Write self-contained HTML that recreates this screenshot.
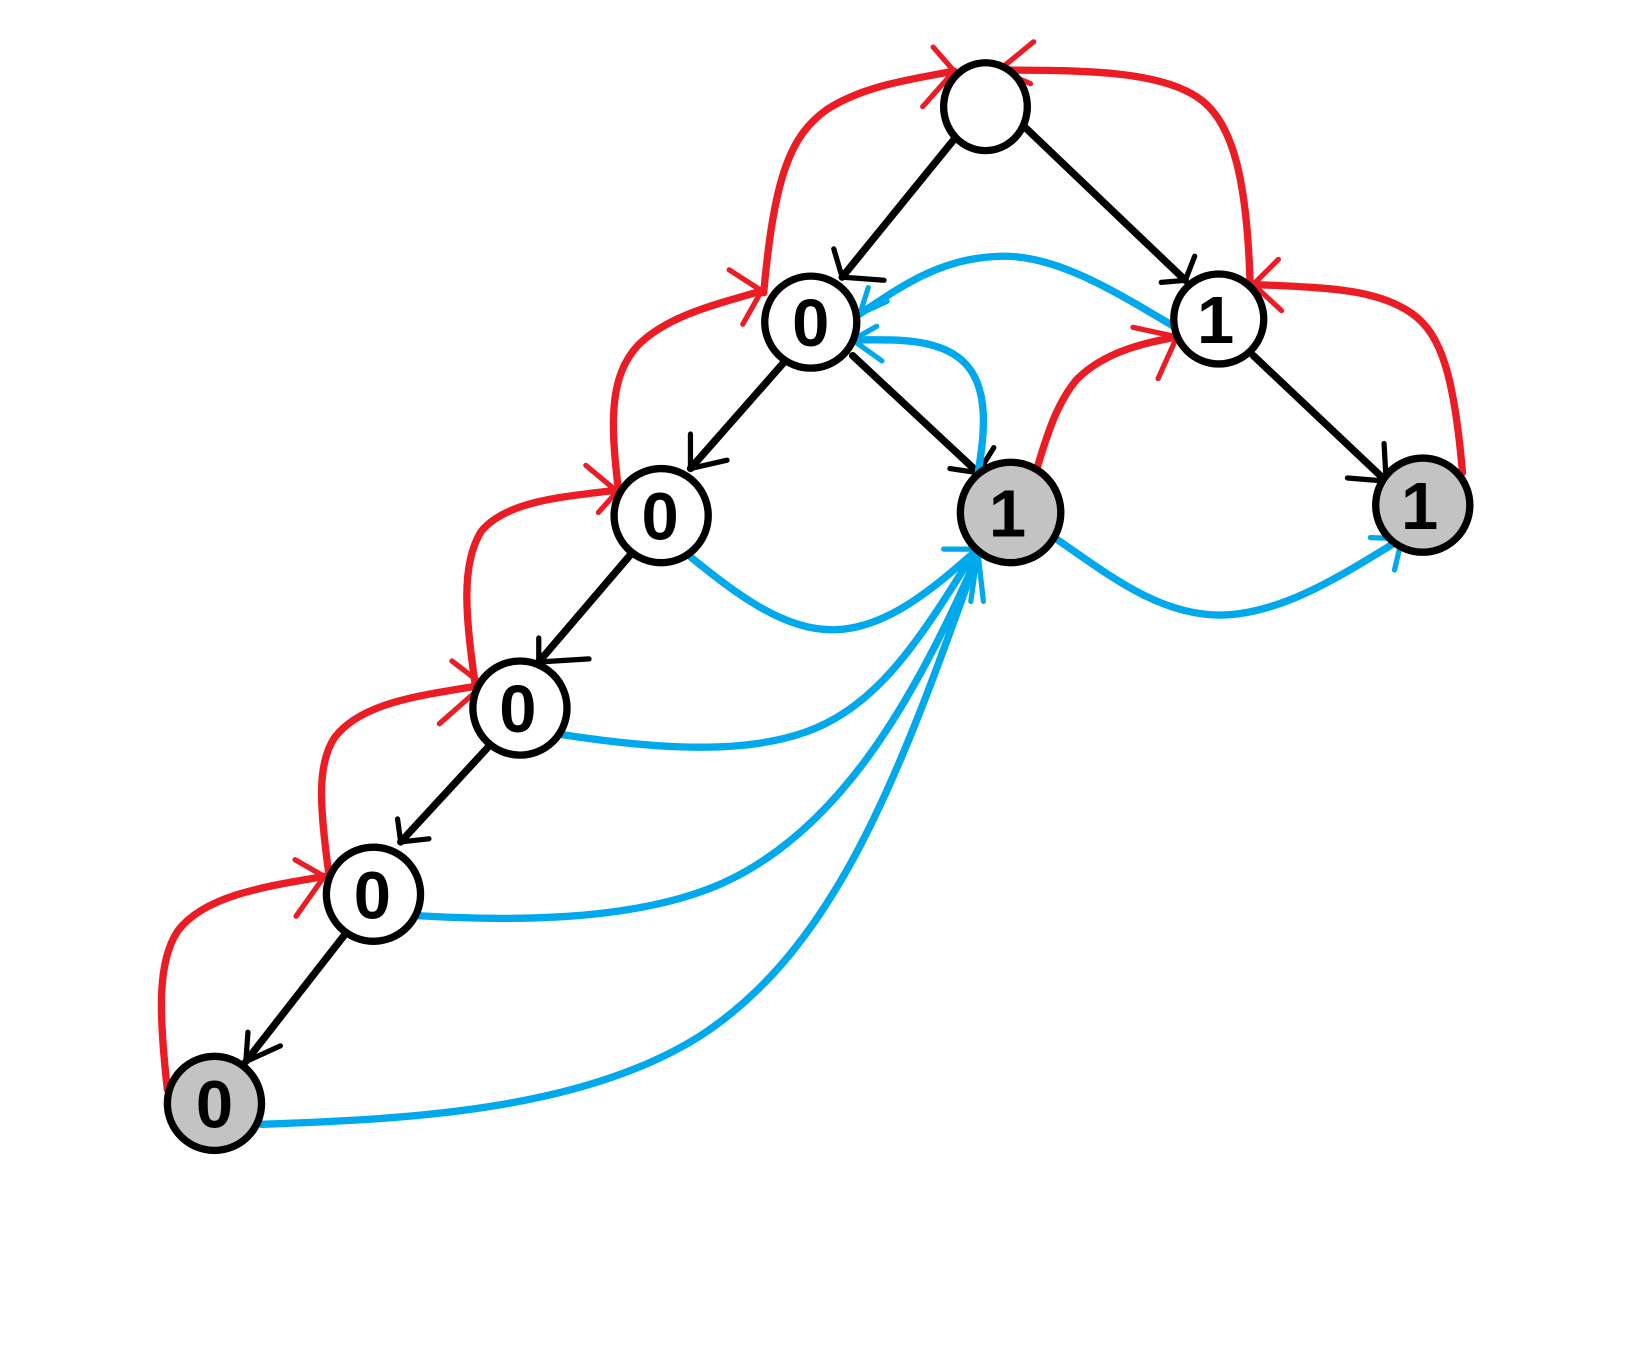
<!DOCTYPE html>
<html><head><meta charset="utf-8"><style>html,body{margin:0;padding:0;background:#fff}svg{display:block}</style></head>
<body>
<svg width="1632" height="1368" viewBox="0 0 1560 1308" preserveAspectRatio="none" xmlns="http://www.w3.org/2000/svg">
<g fill="none" stroke-linecap="round" stroke-linejoin="round">
<!-- black edges -->
<g stroke="#000" stroke-width="7">
<line x1="913" y1="132" x2="805" y2="265"/>
<line x1="978" y1="120" x2="1133" y2="268"/>
<line x1="748" y1="348" x2="660" y2="448"/>
<line x1="815" y1="340" x2="935" y2="452"/>
<line x1="1198" y1="340" x2="1325" y2="460"/>
<line x1="603" y1="530" x2="515" y2="633"/>
<line x1="466" y1="715" x2="383" y2="805"/>
<line x1="330" y1="893" x2="235" y2="1015"/>
</g>
<g stroke="#000" stroke-width="5">
<polyline points="797,238 805,265 845,268"/>
<polyline points="1110,270 1133,268 1142,245"/>
<polyline points="660,415 660,448 695,440"/>
<polyline points="908,448 935,452 950,428"/>
<polyline points="1288,457 1325,460 1323,424"/>
<polyline points="515,610 515,633 563,630"/>
<polyline points="380,783 383,805 410,802"/>
<polyline points="237,987 235,1015 268,1000"/>
</g>
<!-- red -->
<g stroke="#ec1c24" stroke-width="7">
<path d="M730,280 C740,170 755,130 790,105 C825,82 870,76 912,68"/>
<path d="M1195,272 C1192,170 1178,120 1150,97 C1115,68 1040,67 955,67"/>
<path d="M1398,452 C1390,360 1378,320 1350,300 C1315,275 1262,275 1198,272"/>
<path d="M990,452 C1000,418 1010,385 1030,362 C1058,335 1095,328 1125,322"/>
<path d="M592,475 C583,405 582,360 610,330 C640,300 690,290 728,278"/>
<path d="M455,660 C445,590 440,540 460,508 C485,478 540,475 595,468"/>
<path d="M315,840 C305,770 303,730 320,705 C345,672 400,665 462,655"/>
<path d="M160,1042 C152,970 150,920 170,890 C195,857 250,848 310,838"/>
</g>
<g stroke="#ec1c24" stroke-width="5">
<polyline points="892,45 912,68 882,102"/>
<polyline points="988,40 955,67 985,80"/>
<polyline points="1222,248 1198,272 1225,297"/>
<polyline points="1083,313 1125,322 1107,362"/>
<polyline points="697,258 728,278 710,310"/>
<polyline points="560,445 590,470 572,490"/>
<polyline points="432,632 462,655 420,692"/>
<polyline points="282,822 310,838 283,876"/>
</g>
<!-- blue -->
<g stroke="#00a8ec" stroke-width="7">
<path d="M1127,315 C1060,275 1010,245 960,245 C900,245 860,275 822,300"/>
<path d="M935,452 C940,420 948,370 920,345 C895,322 850,325 815,325"/>
<path d="M657,530 C700,565 750,605 800,602 C850,600 895,560 935,525"/>
<path d="M535,702 C600,712 700,725 770,700 C840,675 880,610 930,530"/>
<path d="M390,875 C470,880 610,885 700,840 C800,790 870,680 935,530"/>
<path d="M250,1075 C400,1070 560,1060 670,990 C800,905 860,740 935,530"/>
<path d="M1005,512 C1060,550 1110,590 1170,588 C1230,586 1290,545 1340,515"/>
</g>
<g stroke="#00a8ec" stroke-width="5">
<polyline points="830,275 822,300 848,288"/>
<polyline points="838,312 815,325 843,345"/>
<polyline points="902,525 935,525 928,575"/>
<polyline points="935,530 940,575"/>
<polyline points="1310,514 1340,515 1333,545"/>
</g>
</g>
<!-- nodes -->
<g stroke="#000" stroke-width="7">
<ellipse cx="942" cy="102" rx="40" ry="42" fill="#fff"/>
<circle cx="775" cy="308" r="44" fill="#fff"/>
<circle cx="1165" cy="305" r="43" fill="#fff"/>
<circle cx="632" cy="493" r="45" fill="#fff"/>
<circle cx="966" cy="490" r="48" fill="#c3c3c3"/>
<circle cx="1360" cy="483" r="45" fill="#c3c3c3"/>
<circle cx="497" cy="677" r="45" fill="#fff"/>
<circle cx="357" cy="855" r="45" fill="#fff"/>
<circle cx="205" cy="1055" r="45" fill="#c3c3c3"/>
</g>
<g font-family="Liberation Sans, sans-serif" font-weight="bold" font-size="64" text-anchor="middle" fill="#000">
<text x="775" y="331">0</text>
<text x="1162" y="328">1</text>
<text x="631" y="516">0</text>
<text x="963" y="513">1</text>
<text x="1357" y="506">1</text>
<text x="495" y="700">0</text>
<text x="356" y="878">0</text>
<text x="205" y="1078">0</text>
</g>
</svg>
</body></html>
